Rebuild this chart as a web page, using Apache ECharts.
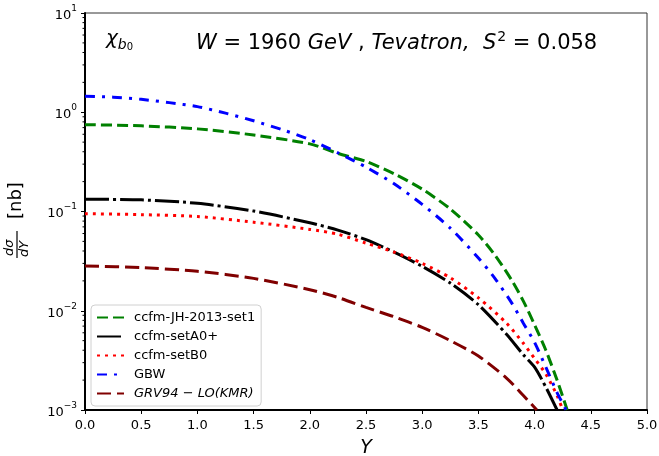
<!DOCTYPE html>
<html>
<head>
<meta charset="utf-8">
<script src="https://cdn.jsdelivr.net/npm/echarts@6/dist/echarts.min.js"></script>
<style>
  html, body { margin: 0; padding: 0; background: #fff; }
  #chart { width: 659px; height: 456px; }
</style>
</head>
<body>
<div id="chart"></div>
<script>
// values (Y, dsigma/dY in nb)
var jhY   = [0, 0.5, 1.0, 1.5, 2.0, 2.25, 2.5, 2.75, 3.0, 3.25, 3.5, 3.65, 3.8, 3.9, 4.0, 4.1, 4.2, 4.29];
var jhVal = [0.75, 0.73, 0.68, 0.59, 0.48, 0.385, 0.32, 0.24, 0.168, 0.106, 0.058, 0.036, 0.020, 0.0125, 0.0072, 0.0040, 0.0020, 0.001];

var a0Y   = [0, 0.5, 1.0, 1.5, 2.0, 2.25, 2.5, 2.75, 3.0, 3.25, 3.5, 3.75, 3.9, 4.0, 4.1, 4.2];
var a0Val = [0.133, 0.131, 0.121, 0.101, 0.077, 0.065, 0.052, 0.039, 0.028, 0.019, 0.0115, 0.0058, 0.0036, 0.0027, 0.0017, 0.001];

var b0Y   = [0, 0.5, 1.0, 1.5, 2.0, 2.25, 2.5, 2.75, 3.0, 3.25, 3.5, 3.75, 3.9, 4.0, 4.1, 4.2, 4.25];
var b0Val = [0.095, 0.093, 0.089, 0.078, 0.066, 0.059, 0.048, 0.039, 0.030, 0.0215, 0.0135, 0.0075, 0.0047, 0.0033, 0.0023, 0.0014, 0.001];

var gbwY   = [0, 0.25, 0.5, 0.75, 1.0, 1.25, 1.5, 1.75, 2.0, 2.25, 2.5, 2.75, 3.0, 3.25, 3.5, 3.65, 3.8, 3.9, 4.0, 4.1, 4.2, 4.28];
var gbwVal = [1.45, 1.42, 1.35, 1.25, 1.14, 0.98, 0.82, 0.67, 0.53, 0.39, 0.28, 0.19, 0.118, 0.068, 0.034, 0.021, 0.0118, 0.0075, 0.0048, 0.0027, 0.0015, 0.001];

var grvY   = [0, 0.5, 1.0, 1.5, 2.0, 2.25, 2.5, 2.75, 3.0, 3.25, 3.5, 3.75, 3.9, 4.02];
var grvVal = [0.0283, 0.0272, 0.0250, 0.0212, 0.0163, 0.0136, 0.0108, 0.0087, 0.0068, 0.0050, 0.0035, 0.0021, 0.0014, 0.001];

var seriesNames = ["ccfm-JH-2013-set1", "ccfm-setA0+", "ccfm-setB0", "GBW", "GRV94\u2212LO(KMR)"];

var yMinorTicks = [];
[0.001, 0.01, 0.1, 1].forEach(function (d) {
  [2, 3, 4, 5, 6, 7, 8, 9].forEach(function (m) { yMinorTicks.push([0, d * m]); });
});

var font = "DejaVu Sans";

function pairs(xs, ys) {
  return xs.map(function (x, i) { return [x, ys[i]]; });
}

function lineSeries(name, xs, ys, color, dash, z) {
  return {
    name: name,
    type: "line",
    data: pairs(xs, ys),
    showSymbol: false,
    symbol: "none",
    smooth: 0.25,
    z: z,
    lineStyle: { color: color, width: 3, type: dash, cap: "butt" },
    itemStyle: { color: color }
  };
}

var chart = echarts.init(document.getElementById("chart"));
chart.setOption({
  animation: false,
  backgroundColor: "#fff",
  grid: {
    left: 85, right: 12, top: 13, bottom: 46,
    outerBoundsMode: "none",
    show: true, borderColor: "#333", borderWidth: 1
  },
  xAxis: {
    type: "value",
    min: 0, max: 5, interval: 0.5,
    name: "Y",
    nameLocation: "middle",
    nameGap: 29,
    nameTextStyle: { fontFamily: font, fontStyle: "italic", fontSize: 19, color: "#000" },
    axisLine: { lineStyle: { color: "#000", width: 2 } },
    axisTick: { inside: false, length: 4, lineStyle: { color: "#000", width: 1 } },
    axisLabel: {
      fontFamily: font, fontSize: 13, color: "#000", margin: 9,
      formatter: function (v) { return v.toFixed(1); }
    },
    splitLine: { show: false }
  },
  yAxis: {
    type: "log",
    logBase: 10,
    min: 0.001, max: 10,
    axisLine: { show: true, lineStyle: { color: "#000", width: 2 } },
    axisTick: { inside: false, length: 4, lineStyle: { color: "#000", width: 1 } },
    axisLabel: {
      margin: 8,
      formatter: function (v) {
        var e = Math.round(Math.log10(v));
        return "{b|10}{e|" + (e < 0 ? "\u2212" + (-e) : e) + "}";
      },
      rich: {
        b: { fontFamily: font, fontSize: 13, color: "#000", lineHeight: 18, verticalAlign: "bottom" },
        e: { fontFamily: font, fontSize: 9, color: "#000", verticalAlign: "top", lineHeight: 18 }
      }
    },
    splitLine: { show: false }
  },
  legend: {
    orient: "vertical",
    left: 91, top: 305,
    data: seriesNames,
    itemWidth: 27, itemHeight: 13, itemGap: 6,
    padding: [6, 6, 6, 5],
    borderColor: "#d0d0d0", borderWidth: 1, borderRadius: 4,
    backgroundColor: "rgba(255,255,255,0.8)",
    itemStyle: { color: "rgba(0,0,0,0)", borderWidth: 0, opacity: 0 },
    textStyle: {
      fontFamily: font, fontSize: 13, color: "#000", padding: [0, 0, 0, 5],
      rich: {
        i: { fontFamily: font, fontSize: 13, fontStyle: "italic", color: "#000" },
        n: { fontFamily: font, fontSize: 13, color: "#000" }
      }
    },
    formatter: function (name) {
      if (name === seriesNames[4]) return "{i|GRV94}{n| \u2212 }{i|LO(KMR)}";
      return name;
    }
  },
  graphic: [
    {
      type: "text", left: 106, top: 29,
      style: {
        text: "{c|\u03c7}{s|b}{t|0}",
        rich: {
          c: { fontFamily: font, fontSize: 20, fontStyle: "italic", fill: "#000", lineHeight: 26 },
          s: { fontFamily: font, fontSize: 14, fontStyle: "italic", fill: "#000", verticalAlign: "bottom", lineHeight: 26 },
          t: { fontFamily: font, fontSize: 10, fill: "#000", verticalAlign: "bottom", lineHeight: 24 }
        }
      }
    },
    {
      type: "text", left: 196, top: 30,
      style: {
        text: "{i|W}{n| = 1960 }{i|GeV}{n| , }{i|Tevatron,}{n|  }{i|S}{p|2}{n| = 0.058}",
        rich: {
          i: { fontFamily: font, fontSize: 21, fontStyle: "italic", fill: "#000", lineHeight: 28, verticalAlign: "bottom" },
          n: { fontFamily: font, fontSize: 21, fill: "#000", lineHeight: 28, verticalAlign: "bottom" },
          p: { fontFamily: font, fontSize: 14, fill: "#000", lineHeight: 18, verticalAlign: "bottom", padding: [0, 0, 10, 1] }
        }
      }
    },
    {
      type: "group", x: 17, y: 258, rotation: Math.PI / 2,
      children: [
        { type: "text", x: 2, y: -1, style: { text: "d\u03c3", fontFamily: font, fontSize: 13, fontStyle: "italic", fill: "#000", verticalAlign: "bottom" } },
        { type: "line", shape: { x1: 0, y1: 0, x2: 27, y2: 0 }, style: { stroke: "#000", lineWidth: 1.2 } },
        { type: "text", x: 1, y: 1, style: { text: "dY", fontFamily: font, fontSize: 13, fontStyle: "italic", fill: "#000", verticalAlign: "top" } },
        { type: "text", x: 39, y: -1, style: { text: "[nb]", fontFamily: font, fontSize: 18, fill: "#000", verticalAlign: "middle" } }
      ]
    }
  ],
  series: [
    lineSeries(seriesNames[0], jhY, jhVal, "#008000", [11, 5], 3),
    lineSeries(seriesNames[1], a0Y, a0Val, "#000000", [24, 4, 3, 4], 3),
    lineSeries(seriesNames[2], b0Y, b0Val, "#ff0000", [3, 5], 4),
    lineSeries(seriesNames[3], gbwY, gbwVal, "#0000ff", [10, 7, 3, 7], 5),
    lineSeries(seriesNames[4], grvY, grvVal, "#800000", [14, 6], 3),
    {
      type: "custom",
      silent: true,
      clip: false,
      data: yMinorTicks,
      encode: { x: 0, y: 1 },
      renderItem: function (params, api) {
        var p = api.coord([0, api.value(1)]);
        return {
          type: "line",
          shape: { x1: p[0] - 2.5, y1: p[1], x2: p[0] - 1, y2: p[1] },
          style: { stroke: "#000", lineWidth: 1 }
        };
      }
    }
  ]
});
</script>
</body>
</html>
